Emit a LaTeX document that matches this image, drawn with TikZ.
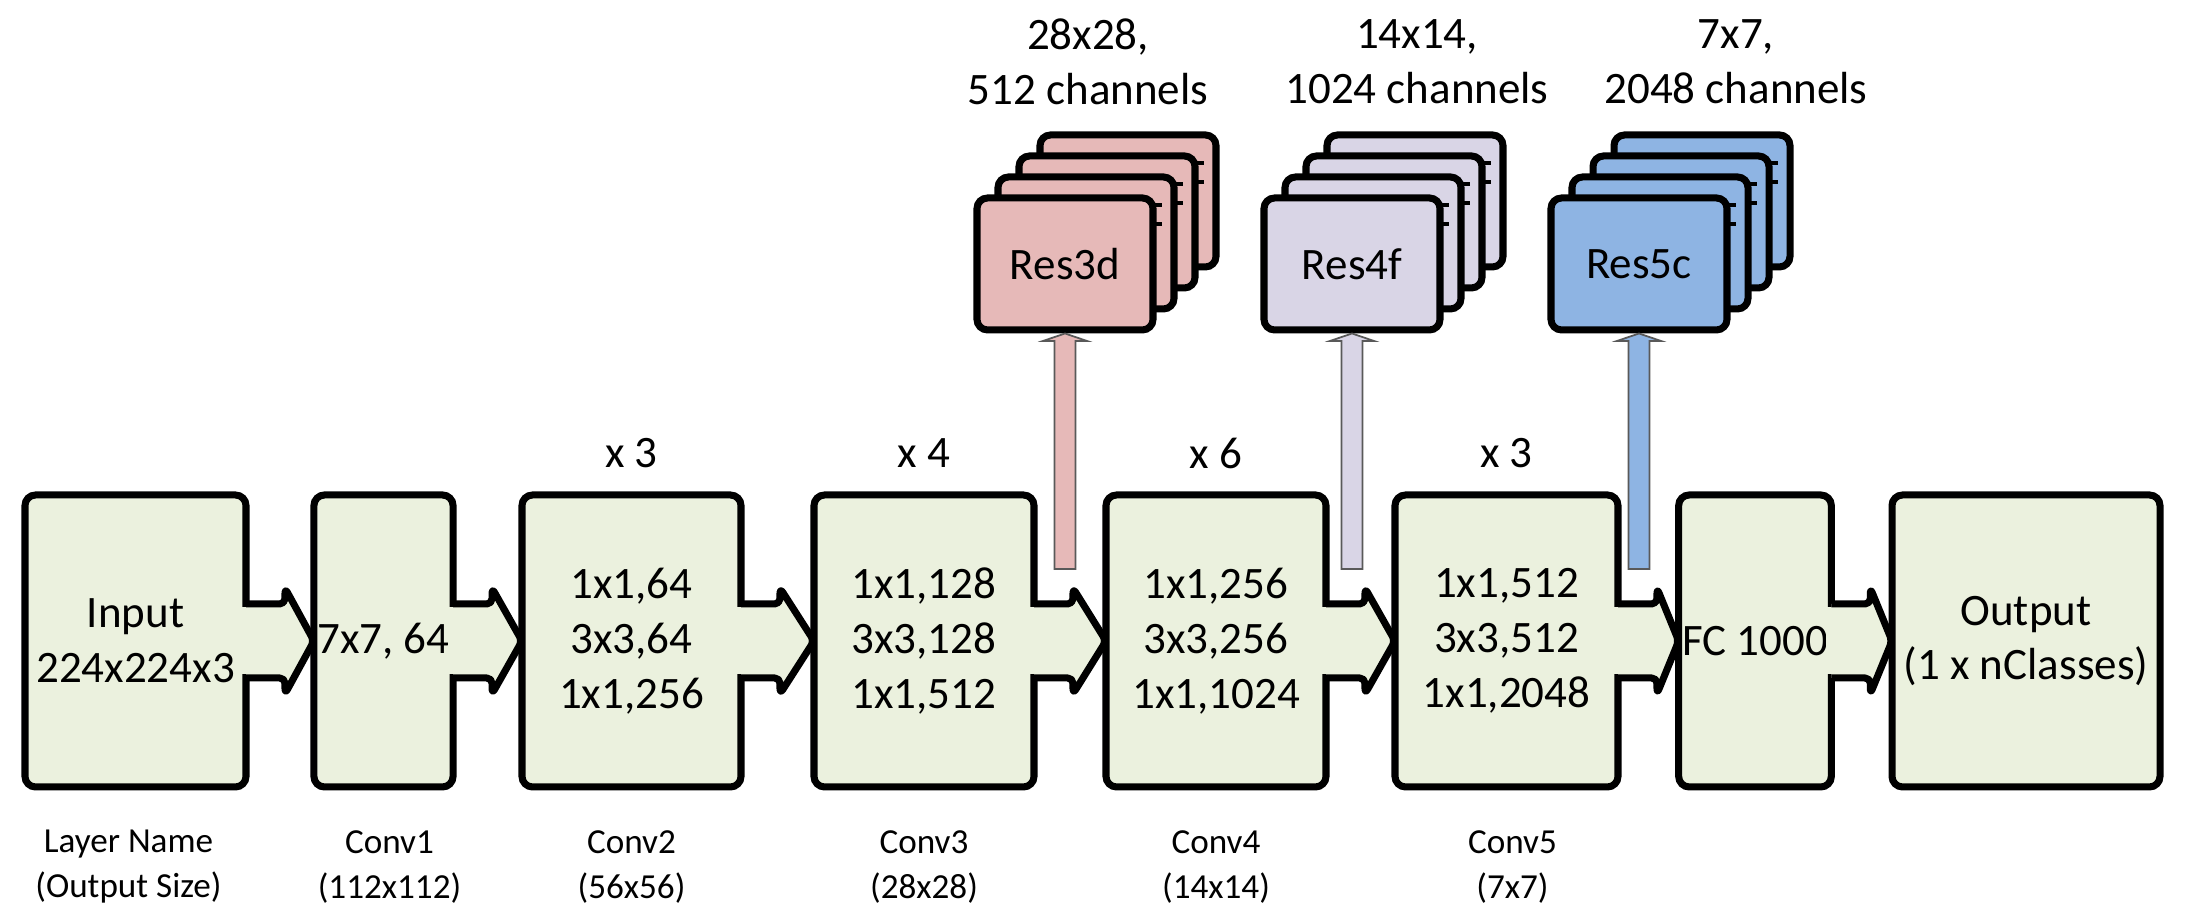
\documentclass[tikz,border=0pt]{standalone}
\usepackage{fontspec}
\setmainfont{Carlito}
\usepackage{tikz}
\usetikzlibrary{calc,positioning}

\definecolor{layergreen}{HTML}{EBF1DE}
\definecolor{respink}{HTML}{E6B9B8}
\definecolor{reslilac}{HTML}{D9D5E6}
\definecolor{resblue}{HTML}{8EB4E3}

\tikzset{
    layer/.style = {draw, fill=layergreen, line width=2pt, rounded corners=3pt,
                    minimum height=2.92cm, inner xsep=1pt, outer sep=0pt, align=center,
                    font=\fontsize{12.8}{15.6}\selectfont},
    resbox/.style = {draw, line width=2pt, rounded corners=3pt, minimum width=1.76cm,
                     minimum height=1.32cm, outer sep=0pt,
                     font=\fontsize{12.8}{15.6}\selectfont},
    joint/.style = {draw, fill=layergreen, line width=2pt, line join=round, rounded corners=1.5pt},
    tick/.style = {line width=1.2pt},
    feed/.style = {draw=black!65, line width=0.5pt},
    note/.style = {align=center, font=\fontsize{12.8}{15.6}\selectfont},
    caption/.style = {align=center, font=\fontsize{10}{12.8}\selectfont},
}

% chevron from one layer into the next
\newcommand{\joint}[2]{%
    \fill[layergreen] ($(#1.east)+(-0.05,0.335)$) rectangle ($(#1.east)+(0.05,-0.335)$);
    \filldraw[joint] ($(#1.east)+(0,0.37)$) -- ++(0.39,0) -- ++(0,0.16)
        -- (#2.west) -- ($(#1.east)+(0.39,-0.53)$) -- ++(0,0.16) -- ++(-0.39,0);
}

% four stacked feature maps, front one carries the label
\newcommand{\resstack}[4]{%
    \foreach \k in {3,2,1,0} {
        \node[resbox, fill=#3] (#1\k) at ({#2+0.21*\k},{6.58+0.21*\k}) {\ifnum\k=0 #4\fi};
        \ifnum\k<3
            \draw[tick] ($(#1\k.north east)+(0,-0.07)$) -- ++(0.09,0)
                        ($(#1\k.north east)+(0,-0.26)$) -- ++(0.09,0);
        \fi
    }
}

% block arrow up to a stack
\newcommand{\feed}[3]{%
    \path (#1 |- #2.south) coordinate (#1top);
    \filldraw[feed, fill=#3] ($(#1)+(-0.105,0)$) -- ($(#1top)+(-0.105,-0.11)$) -- ++(-0.115,0)
        -- ($(#1top)+(0,-0.035)$) -- ($(#1top)+(0.22,-0.11)$) -- ++(-0.115,0)
        -- ($(#1)+(0.105,0)$) -- cycle;
}

\begin{document}
\begin{tikzpicture}
    \useasboundingbox (0,0) rectangle (21.9,9.22);

    \node[layer, minimum width=2.21cm] (in)  at (1.355,2.81)  {Input\\224x224x3};
    \node[layer, minimum width=1.29cm] (c1)  at (3.835,2.81)  {7x7, 64};
    \node[layer, minimum width=2.19cm] (c2)  at (6.315,2.81)  {1x1,64\\3x3,64\\1x1,256};
    \node[layer, minimum width=2.20cm] (c3)  at (9.24,2.81)   {1x1,128\\3x3,128\\1x1,512};
    \node[layer, minimum width=2.20cm] (c4)  at (12.16,2.81)  {1x1,256\\3x3,256\\1x1,1024};
    \node[layer, minimum width=2.23cm] (c5)  at (15.065,2.81) {1x1,512\\3x3,512\\1x1,2048};
    \node[layer, minimum width=1.36cm] (fc)  at (17.55,2.81)  {FC 1000};
    \node[layer, minimum width=2.68cm] (out) at (20.26,2.81)  {Output\\(1 x nClasses)};

    \joint{in}{c1}
    \joint{c1}{c2}
    \joint{c2}{c3}
    \joint{c3}{c4}
    \joint{c4}{c5}
    \joint{c5}{fc}
    \joint{fc}{out}

    \node[note] (x2) at ($(c2.north)+(0,0.42)$) {x 3};
    \node[note] (x3) at ($(c3.north)+(0,0.42)$) {x 4};
    \node[note] (x4) at ($(c4.north)+(0,0.42)$) {x 6};
    \node[note] (x5) at ($(c5.north)+(0,0.42)$) {x 3};

    \node[caption] (l0) at ($(in.south)+(-0.07,-0.80)$) {Layer Name\\(Output Size)};
    \node[caption] (l1) at ($(c1.south)+(0.06,-0.80)$) {Conv1\\(112x112)};
    \node[caption] (l2) at ($(c2.south)+(0,-0.80)$) {Conv2\\(56x56)};
    \node[caption] (l3) at ($(c3.south)+(0,-0.80)$) {Conv3\\(28x28)};
    \node[caption] (l4) at ($(c4.south)+(0,-0.80)$) {Conv4\\(14x14)};
    \node[caption] (l5) at ($(c5.south)+(0.06,-0.80)$) {Conv5\\(7x7)};

    \resstack{r3}{10.65}{respink}{Res3d}
    \resstack{r4}{13.52}{reslilac}{Res4f}
    \resstack{r5}{16.39}{resblue}{Res5c}

    \node[note] (t3) at (10.88,8.60) {28x28,\\512 channels};
    \node[note] (t4) at (14.17,8.60) {14x14,\\1024 channels};
    \node[note] (t5) at (17.36,8.60) {7x7,\\2048 channels};

    \coordinate (f3) at (10.65,3.53);
    \coordinate (f4) at (13.52,3.53);
    \coordinate (f5) at (16.39,3.53);
    \feed{f3}{r30}{respink}
    \feed{f4}{r40}{reslilac}
    \feed{f5}{r50}{resblue}
\end{tikzpicture}
\end{document}
